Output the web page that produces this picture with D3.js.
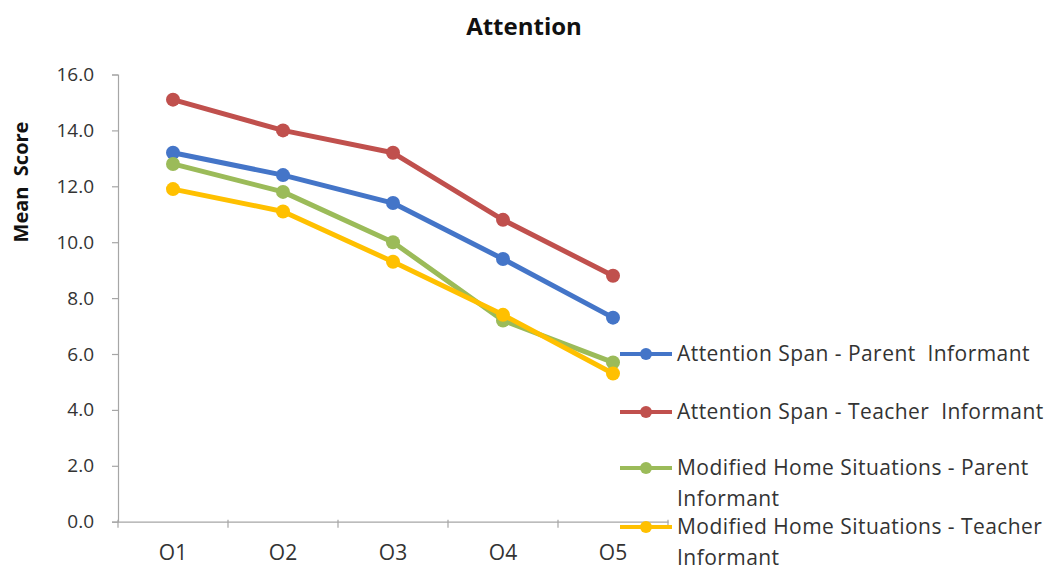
<!DOCTYPE html>
<html>
<head>
<meta charset="utf-8">
<script src="https://cdn.jsdelivr.net/npm/d3@7"></script>
<style>
  html, body { margin: 0; padding: 0; background: #fff; }
  svg { display: block; }
  text { font-family: "Open Sans", "Liberation Sans", sans-serif; fill: #333; white-space: pre; }
</style>
</head>
<body>
<svg id="chart" width="1052" height="570"></svg>
<script>
const categories = ["O1", "O2", "O3", "O4", "O5"];
const yTicks = [0, 2, 4, 6, 8, 10, 12, 14, 16];
const seriesNames = [
  "Attention Span - Parent  Informant",
  "Attention Span - Teacher  Informant",
  "Modified Home Situations - Parent\nInformant",
  "Modified Home Situations - Teacher\nInformant"
];
const seriesColors = ["#4475C8", "#C0504D", "#9BBB59", "#FFC000"];
const attentionParent = [13.2, 12.4, 11.4, 9.4, 7.3];
const attentionTeacher = [15.1, 14.0, 13.2, 10.8, 8.8];
const homeParent = [12.8, 11.8, 10.0, 7.2, 5.7];
const homeTeacher = [11.9, 11.1, 9.3, 7.4, 5.3];
const seriesValues = [attentionParent, attentionTeacher, homeParent, homeTeacher];

const svg = d3.select("#chart");
const plot = { left: 118, right: 668, top: 74.5, bottom: 521.7 };

const x = d3.scaleBand().domain(categories).range([plot.left, plot.right]);
const y = d3.scaleLinear().domain([0, 16]).range([plot.bottom, plot.top]);

// Title
svg.append("text").attr("x", 524).attr("y", 35).attr("text-anchor", "middle")
  .style("font-weight", "bold").style("font-size", "24px").style("fill", "#111")
  .text("Attention");

// Y axis title
svg.append("text").attr("transform", "translate(28,182) rotate(-90)")
  .attr("text-anchor", "middle").style("font-weight", "bold").style("font-size", "20px")
  .style("fill", "#111").text("Mean  Score");

// Y axis
const yAxis = svg.append("g").attr("transform", `translate(${plot.left},0)`)
  .call(d3.axisLeft(y).tickValues(yTicks).tickFormat(d3.format(".1f")).tickSize(6).tickPadding(18));
yAxis.select(".domain").attr("stroke", "#a6a6a6").attr("stroke-width", 1.2);
yAxis.selectAll(".tick line").attr("stroke", "#a6a6a6").attr("stroke-width", 1.2);
yAxis.selectAll(".tick text").style("font-size", "19px").style("fill", "#333")
  .style("font-family", "'Open Sans', sans-serif");

// X axis
const xAxis = svg.append("g").attr("transform", `translate(0,${plot.bottom})`)
  .call(d3.axisBottom(x).tickSize(0).tickPadding(23));
xAxis.select(".domain").attr("stroke", "#a6a6a6").attr("stroke-width", 1.2);
xAxis.selectAll(".tick text").style("font-size", "21px").style("fill", "#333")
  .style("font-family", "'Open Sans', sans-serif");
// boundary tick marks
const boundaries = categories.map(c => x(c)).concat([plot.right]);
svg.append("g").selectAll("line").data(boundaries).join("line")
  .attr("x1", d => d).attr("x2", d => d)
  .attr("y1", plot.bottom - 2).attr("y2", plot.bottom + 6)
  .attr("stroke", "#a6a6a6").attr("stroke-width", 1.2);

// Lines
const line = d3.line().x((d, i) => x(categories[i]) + x.bandwidth() / 2).y(d => y(d));
seriesValues.forEach((vals, si) => {
  const g = svg.append("g");
  g.append("path").datum(vals).attr("d", line).attr("fill", "none")
    .attr("stroke", seriesColors[si]).attr("stroke-width", 5)
    .attr("stroke-linejoin", "round");
  g.selectAll("circle").data(vals).join("circle")
    .attr("cx", (d, i) => x(categories[i]) + x.bandwidth() / 2)
    .attr("cy", d => y(d)).attr("r", 7).attr("fill", seriesColors[si]);
});

// Legend
const legendY = [354, 412, 468, 527];
const leg = svg.append("g");
seriesNames.forEach((name, i) => {
  const yy = legendY[i];
  leg.append("line").attr("x1", 620).attr("x2", 672).attr("y1", yy).attr("y2", yy)
    .attr("stroke", seriesColors[i]).attr("stroke-width", 4);
  leg.append("circle").attr("cx", 646).attr("cy", yy).attr("r", 6).attr("fill", seriesColors[i]);
  const lines = name.split("\n");
  lines.forEach((ln, j) => {
    leg.append("text").attr("x", 677).attr("y", yy + 7 + j * 31)
      .style("font-size", "21px").style("letter-spacing", "0.45px")
      .style("fill", "#333").text(ln);
  });
});
</script>
</body>
</html>
